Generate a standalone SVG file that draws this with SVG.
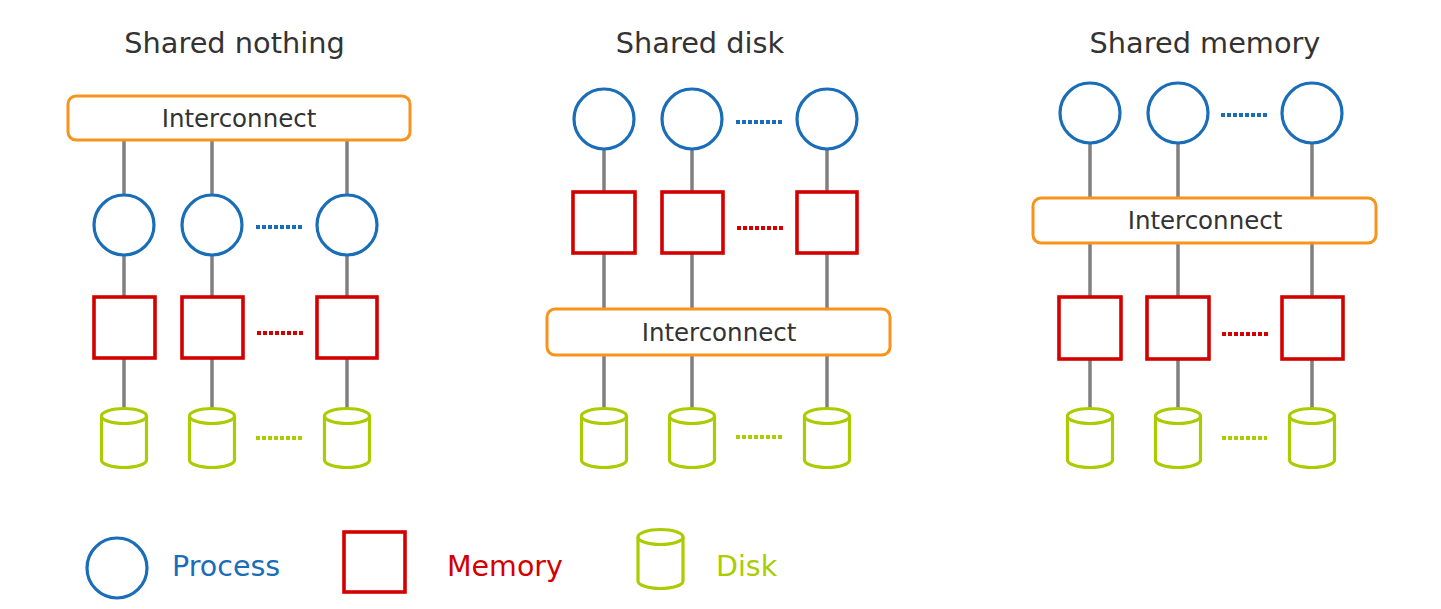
<svg xmlns="http://www.w3.org/2000/svg" width="1441" height="609" viewBox="0 0 1441 609">
<style>
text{font-family:"DejaVu Sans","Noto Sans",sans-serif}
.title{font-size:28.8px;fill:#333333;text-anchor:middle}
.ic rect{fill:#ffffff;stroke:#F7941D;stroke-width:3}
.ic text{font-size:24.5px;fill:#333333;text-anchor:middle}
.proc{fill:#ffffff;stroke:#1A6DB8;stroke-width:3.2}
.mem{fill:#ffffff;stroke:#D40000;stroke-width:3.6}
.disk{fill:#ffffff;stroke:#AACC00;stroke-width:3.2}
.ln{stroke:#808080;stroke-width:3.5;fill:none}
.dotb{stroke:#1A6DB8;stroke-width:4;stroke-dasharray:4 2;fill:none}
.dotr{stroke:#D40000;stroke-width:4;stroke-dasharray:4 2;fill:none}
.dotg{stroke:#AACC00;stroke-width:4;stroke-dasharray:4 2;fill:none}
.leg{font-size:28.5px}
</style>
<defs>
<g id="cyl">
<path d="M-22.5,-22 V22 A22.5,7.5 0 0 0 22.5,22 V-22" class="disk"/>
<ellipse cx="0" cy="-22" rx="22.5" ry="7.5" class="disk"/>
</g>
</defs>

<text class="title" x="234.5" y="53">Shared nothing</text>
<text class="title" x="700" y="53">Shared disk</text>
<text class="title" x="1205" y="53">Shared memory</text>

<g id="connectors">
<!-- panel 1 -->
<path class="ln" d="M124,140V195M212,140V195M347,140V195"/>
<path class="ln" d="M124,255V297M212,255V297M347,255V297"/>
<path class="ln" d="M124,359V408M212,359V408M347,359V408"/>
<path class="dotb" d="M256,227H302"/>
<path class="dotr" d="M257,333H303"/>
<path class="dotg" d="M256,438H302"/>
<!-- panel 2 -->
<path class="ln" d="M604,149V192M692,149V192M827,149V192"/>
<path class="ln" d="M604,253V309M692,253V309M827,253V309"/>
<path class="ln" d="M604,355V408M692,355V408M827,355V408"/>
<path class="dotb" d="M736,122H782"/>
<path class="dotr" d="M737,228H783"/>
<path class="dotg" d="M736,437H782"/>
<!-- panel 3 -->
<path class="ln" d="M1090,143V198M1178,143V198M1312,143V198"/>
<path class="ln" d="M1090,243V297M1178,243V297M1312,243V297"/>
<path class="ln" d="M1090,359V408M1178,359V408M1312,359V408"/>
<path class="dotb" d="M1221,115H1267"/>
<path class="dotr" d="M1222,334H1268"/>
<path class="dotg" d="M1222,438H1267"/>
</g>

<!-- Panel 1: Shared nothing -->
<g id="sn-interconnect" class="ic"><rect x="68" y="96" width="342" height="44" rx="8"/><text x="239" y="127">Interconnect</text></g>
<g id="sn-p1"><circle class="proc" cx="124" cy="225" r="30"/></g>
<g id="sn-p2"><circle class="proc" cx="212" cy="225" r="30"/></g>
<g id="sn-p3"><circle class="proc" cx="347" cy="225" r="30"/></g>
<g id="sn-m1"><rect class="mem" x="94" y="297" width="61" height="61"/></g>
<g id="sn-m2"><rect class="mem" x="182" y="297" width="61" height="61"/></g>
<g id="sn-m3"><rect class="mem" x="317" y="297" width="60" height="61"/></g>
<g id="sn-d1"><use href="#cyl" x="124" y="438"/></g>
<g id="sn-d2"><use href="#cyl" x="212" y="438"/></g>
<g id="sn-d3"><use href="#cyl" x="347" y="438"/></g>

<!-- Panel 2: Shared disk -->
<g id="sd-p1"><circle class="proc" cx="604" cy="119" r="30"/></g>
<g id="sd-p2"><circle class="proc" cx="692" cy="119" r="30"/></g>
<g id="sd-p3"><circle class="proc" cx="827" cy="119" r="30"/></g>
<g id="sd-m1"><rect class="mem" x="573" y="192" width="62" height="61"/></g>
<g id="sd-m2"><rect class="mem" x="662" y="192" width="61" height="61"/></g>
<g id="sd-m3"><rect class="mem" x="797" y="192" width="60" height="61"/></g>
<g id="sd-interconnect" class="ic"><rect x="547" y="309" width="343" height="46" rx="8"/><text x="719" y="341">Interconnect</text></g>
<g id="sd-d1"><use href="#cyl" x="604" y="438"/></g>
<g id="sd-d2"><use href="#cyl" x="692" y="438"/></g>
<g id="sd-d3"><use href="#cyl" x="827" y="438"/></g>

<!-- Panel 3: Shared memory -->
<g id="sm-p1"><circle class="proc" cx="1090" cy="113" r="30"/></g>
<g id="sm-p2"><circle class="proc" cx="1178" cy="113" r="30"/></g>
<g id="sm-p3"><circle class="proc" cx="1312" cy="113" r="30"/></g>
<g id="sm-interconnect" class="ic"><rect x="1033" y="198" width="343" height="45" rx="8"/><text x="1205" y="229">Interconnect</text></g>
<g id="sm-m1"><rect class="mem" x="1059" y="297" width="62" height="62"/></g>
<g id="sm-m2"><rect class="mem" x="1147" y="297" width="62" height="62"/></g>
<g id="sm-m3"><rect class="mem" x="1282" y="297" width="61" height="62"/></g>
<g id="sm-d1"><use href="#cyl" x="1090" y="438"/></g>
<g id="sm-d2"><use href="#cyl" x="1178" y="438"/></g>
<g id="sm-d3"><use href="#cyl" x="1312" y="438"/></g>

<!-- Legend -->
<g id="legend-process"><circle class="proc" cx="117" cy="568" r="30"/><text class="leg" x="172" y="575.5" fill="#1A6DB8">Process</text></g>
<g id="legend-memory"><rect class="mem" x="344" y="532" width="61" height="60"/><text class="leg" x="447" y="575.5" fill="#D40000">Memory</text></g>
<g id="legend-disk"><use href="#cyl" x="660.5" y="559"/><text class="leg" x="716" y="575.5" fill="#AACC00">Disk</text></g>
</svg>
